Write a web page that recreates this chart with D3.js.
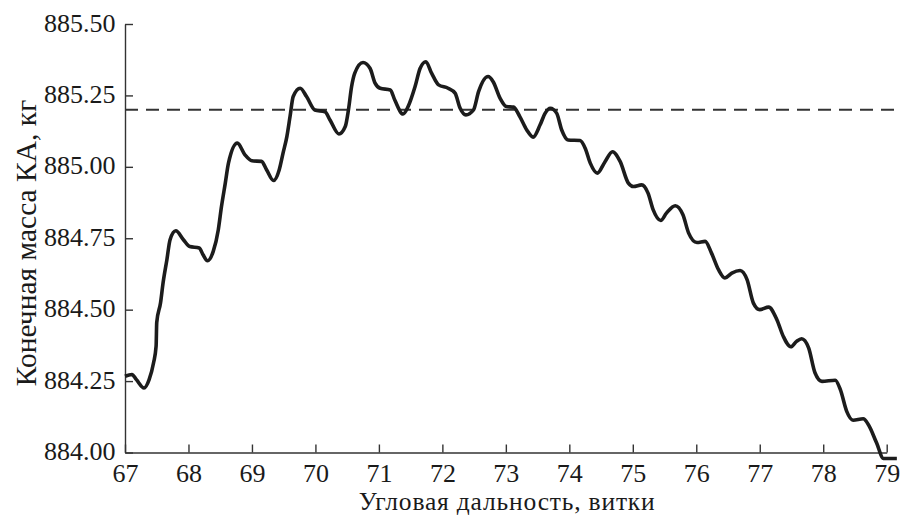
<!DOCTYPE html>
<html>
<head>
<meta charset="utf-8">
<script src="https://cdn.jsdelivr.net/npm/d3@7"></script>
<style>
  body { margin: 0; background: #fff; }
  svg { display: block; }
  .axis path, .axis line { stroke: #333; stroke-width: 1.4; }
  .axis text { font-size: 26px; fill: #1a1a1a; font-family: 'Liberation Serif', 'Times New Roman', serif; }
  .title { font-size: 25.5px; fill: #1a1a1a; font-family: 'Liberation Serif', 'Times New Roman', serif; }
</style>
</head>
<body>
<div id="chart"></div>
<script>
// orbit angle (turns) vs final spacecraft mass (kg)
var turns = [67.00,67.11,67.18,67.30,67.38,67.45,67.49,67.50,67.56,67.60,67.66,67.71,67.80,67.92,
  68.02,68.17,68.23,68.30,68.39,68.47,68.52,68.58,68.63,68.77,68.89,69.00,69.15,69.23,69.34,69.43,
  69.49,69.55,69.60,69.65,69.76,69.86,69.99,70.15,70.23,70.37,70.47,70.52,70.57,70.62,70.75,70.86,
  70.94,71.02,71.18,71.25,71.38,71.46,71.57,71.65,71.74,71.83,71.94,72.09,72.20,72.28,72.37,72.49,
  72.57,72.72,72.80,72.91,73.01,73.12,73.22,73.33,73.43,73.54,73.62,73.70,73.80,73.88,73.98,74.17,
  74.25,74.33,74.44,74.56,74.68,74.80,74.93,75.01,75.14,75.24,75.32,75.44,75.53,75.67,75.79,75.88,
  76.01,76.14,76.24,76.35,76.45,76.56,76.69,76.80,76.90,77.00,77.14,77.27,77.37,77.49,77.58,77.66,
  77.77,77.87,77.98,78.19,78.27,78.37,78.47,78.63,78.71,78.84,78.95,79.16];
var mass = [884.267,884.273,884.255,884.226,884.255,884.314,884.372,884.455,884.524,884.594,884.675,884.745,884.776,884.745,
  884.721,884.716,884.692,884.671,884.704,884.780,884.861,884.943,885.013,885.083,885.042,885.021,885.019,884.990,884.952,884.990,
  885.048,885.106,885.176,885.246,885.275,885.246,885.199,885.193,885.164,885.115,885.141,885.199,885.281,885.328,885.365,885.345,
  885.293,885.275,885.269,885.234,885.185,885.211,885.281,885.345,885.368,885.328,885.287,885.275,885.258,885.205,885.182,885.199,
  885.263,885.316,885.298,885.240,885.211,885.209,885.176,885.129,885.104,885.147,885.188,885.205,885.188,885.129,885.094,885.092,
  885.065,885.013,884.978,885.017,885.053,885.019,884.943,884.931,884.937,884.908,884.850,884.812,884.838,884.864,884.832,884.768,
  884.735,884.739,884.698,884.640,884.611,884.628,884.637,884.605,884.523,884.500,884.509,884.465,884.407,884.370,884.389,884.398,
  884.366,884.279,884.249,884.253,884.220,884.144,884.113,884.118,884.098,884.034,883.979,883.979];

var xTicks = [67,68,69,70,71,72,73,74,75,76,77,78,79];
var yTicks = [884.00,884.25,884.50,884.75,885.00,885.25,885.50];
var refMass = 885.2;
var refSpan = [67, 79.16];

var width = 901,
    height = 516,
    margin = {top: 24, right: 14.3, bottom: 63.5, left: 125};

var svg = d3.select("#chart").append("svg")
    .attr("width", width)
    .attr("height", height);

var x = d3.scaleLinear()
    .domain([67, 79])
    .range([margin.left, width - margin.right]);

var y = d3.scaleLinear()
    .domain([884, 885.5])
    .range([height - margin.bottom, margin.top]);

// axes, ticks pointing inward
svg.append("g")
    .attr("class", "axis")
    .attr("transform", "translate(0," + (height - margin.bottom) + ")")
    .call(d3.axisBottom(x).tickValues(xTicks).tickFormat(d3.format("d"))
        .tickSizeInner(-8).tickSizeOuter(0).tickPadding(11));

svg.append("g")
    .attr("class", "axis")
    .attr("transform", "translate(" + margin.left + ",0)")
    .call(d3.axisLeft(y).tickValues(yTicks).tickFormat(d3.format(".2f"))
        .tickSizeInner(-8).tickSizeOuter(0).tickPadding(9.5))
    .selectAll("text").attr("dy", "0.27em");

// reference level
svg.append("line")
    .attr("x1", x(refSpan[0]))
    .attr("x2", x(refSpan[1]))
    .attr("y1", y(refMass))
    .attr("y2", y(refMass))
    .attr("stroke", "#333")
    .attr("stroke-width", 2)
    .attr("stroke-dasharray", "13,8");

var line = d3.line()
    .x(function(d, i) { return x(turns[i]); })
    .y(function(d) { return y(d); })
    .curve(d3.curveMonotoneX);

svg.append("path")
    .datum(mass)
    .attr("fill", "none")
    .attr("stroke", "#1c1c1c")
    .attr("stroke-width", 3.6)
    .attr("stroke-linejoin", "round")
    .attr("d", line);

// x title: the original face is wider, so spread letters a little
svg.append("text")
    .attr("class", "title")
    .attr("x", 506.7)
    .attr("y", 510.2)
    .attr("text-anchor", "middle")
    .attr("textLength", 296)
    .attr("lengthAdjust", "spacing")
    .text("Угловая дальность, витки");

svg.append("text")
    .attr("class", "title")
    .attr("transform", "translate(36,243) rotate(-90)")
    .attr("text-anchor", "middle")
    .style("font-size", "29.5px")
    .text("Конечная масса КА, кг");
</script>
</body>
</html>
